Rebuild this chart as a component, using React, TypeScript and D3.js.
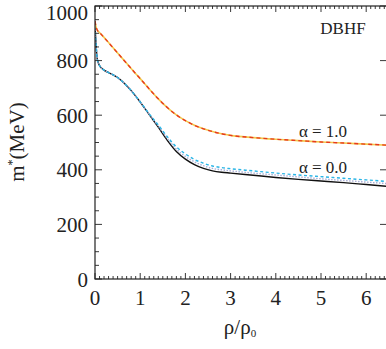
import React from "react";
import * as d3 from "d3";

const xs = [0, 0.02, 0.05, 0.1, 0.2, 0.3, 0.4, 0.5, 0.6, 0.7, 0.8, 0.9, 1.0, 1.2, 1.4, 1.6, 1.8, 2.0, 2.2, 2.4, 2.6, 2.8, 3.0, 3.5, 4, 4.5, 5, 5.5, 6, 6.5];
const alpha1 = [945, 925, 912, 903, 885, 866, 847, 828, 809, 790, 771, 752, 734, 696, 660, 628, 601, 580, 563, 550, 540, 532, 526, 518, 512, 507, 502, 498, 494, 490];
const alpha0Solid = [925, 868, 805, 782, 765, 756, 748, 738, 724, 708, 690, 670, 648, 602, 556, 508, 467, 439, 419, 405, 396, 391, 388, 380, 372, 365, 359, 353, 346, 339];
const alpha0Dotted = [925, 868, 805, 782, 765, 756, 748, 738, 724, 708, 690, 670, 648, 603, 560, 515, 476, 449, 429, 415, 405, 400, 396, 388, 381, 374, 367, 361, 355, 349];
const alpha0Dashed = [925, 868, 805, 782, 765, 756, 748, 738, 724, 708, 690, 670, 649, 605, 564, 521, 484, 458, 438, 424, 414, 408, 404, 396, 388, 381, 375, 369, 363, 357];
const xTicks = [0, 1, 2, 3, 4, 5, 6];
const yTicks = [0, 200, 400, 600, 800, 1000];

const W = 386, H = 349;
const L = 95, R = 387, T = 6, B = 279;

export default function App() {
  const x = d3.scaleLinear().domain([0, (R - L) / 45.2]).range([L, R]);
  const y = d3.scaleLinear().domain([0, 1000]).range([B, T]);
  const line = (vals: number[]) =>
    d3.line<number>().x((_, i) => x(xs[i])).y((v) => y(v)).curve(d3.curveMonotoneX)(vals) as string;

  const xMinor = d3.range(0, 64.6, 1).map((v) => v / 10).filter((v) => x(v) <= R);
  const yMinor = d3.range(0, 1001, 50);
  const font = "'Liberation Serif', 'Times New Roman', serif";

  return (
    <svg width={W} height={H} style={{ position: "absolute", left: 0, top: 0, background: "#fff" }} fontFamily={font}>
      <defs>
        <clipPath id="c">
          <rect x={L} y={T} width={R - L} height={B - T} />
        </clipPath>
      </defs>
      <g clipPath="url(#c)" fill="none">
        <path d={line(alpha0Solid)} stroke="#111" strokeWidth={1.4} />
        <path d={line(alpha0Dotted)} stroke="#a9aed6" strokeWidth={1.4} strokeDasharray="1.5 1.5" />
        <path d={line(alpha0Dashed)} stroke="#2bb5e6" strokeWidth={1.4} strokeDasharray="3 2.5" />
        <path d={line(alpha1)} stroke="#f2c94c" strokeWidth={1.6} />
        <path d={line(alpha1)} stroke="#e8391f" strokeWidth={1.4} strokeDasharray="4 3" />
      </g>
      <rect x={L} y={T} width={R - L} height={B - T} fill="none" stroke="#222" strokeWidth={1.2} />
      {xMinor.map((v, i) => {
        const major = Math.abs(v - Math.round(v)) < 1e-6;
        const len = major ? 6 : 3;
        return (
          <g key={"xm" + i} stroke="#222" strokeWidth={0.9}>
            <line x1={x(v)} x2={x(v)} y1={B} y2={B - len} />
            <line x1={x(v)} x2={x(v)} y1={T} y2={T + len} />
          </g>
        );
      })}
      {yMinor.map((v, i) => {
        const major = v % 200 === 0;
        const len = major ? 7 : 4;
        return (
          <g key={"ym" + i} stroke="#222" strokeWidth={0.9}>
            <line x1={L} x2={L + len} y1={y(v)} y2={y(v)} />
            {major && <line x1={R} x2={R - len} y1={y(v)} y2={y(v)} />}
          </g>
        );
      })}
      {xTicks.map((v) => (
        <text key={"xt" + v} x={x(v)} y={305} fontSize={21} textAnchor="middle" fill="#222">
          {v}
        </text>
      ))}
      {yTicks.map((v) => (
        <text key={"yt" + v} x={88} y={Math.max(y(v) + 7.5, 20)} fontSize={21} textAnchor="end" fill="#222">
          {v}
        </text>
      ))}
      <text x={240} y={334} fontSize={21} textAnchor="middle" fill="#222">
        ρ/ρ<tspan fontSize={11} dy={3}>0</tspan>
      </text>
      <text transform="translate(24,142) rotate(-90)" fontSize={21} textAnchor="middle" fill="#222">
        m<tspan fontSize={12} dy={-8}>*</tspan><tspan dy={8}>(MeV)</tspan>
      </text>
      <text x={343} y={34} fontSize={17} textAnchor="middle" fill="#222">DBHF</text>
      <text x={323} y={137} fontSize={17} textAnchor="middle" fill="#222">α = 1.0</text>
      <text x={323} y={173} fontSize={17} textAnchor="middle" fill="#222">α = 0.0</text>
    </svg>
  );
}
